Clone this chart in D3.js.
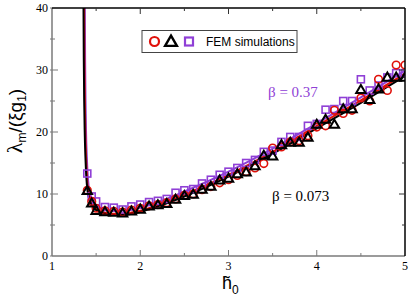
<!DOCTYPE html>
<html><head><meta charset="utf-8">
<script src="https://cdn.jsdelivr.net/npm/d3@7"></script>
<style>body{margin:0;background:#fff}svg{display:block}</style>
</head><body>
<svg id="c" width="415" height="300"></svg>
<script>
// ---- data ----
const xTicks = [1, 2, 3, 4, 5];
const yTicks = [0, 10, 20, 30, 40];
const simX = [1.4,1.45,1.5,1.6,1.7,1.8,1.9,2.0,2.1,2.2,2.3,2.4,2.5,2.6,2.7,2.8,2.9,3.0,3.1,3.2,3.3,3.4,3.5,3.6,3.7,3.8,3.9,4.0,4.1,4.2,4.3,4.4,4.5,4.6,4.7,4.8,4.9,5.0];
const triY = [10.5,8.5,7.3,7.1,7.0,6.9,7.2,7.5,8.0,8.2,8.4,9.1,9.7,9.9,10.7,11.2,12.2,12.5,13.2,13.5,14.5,16.2,16.1,17.9,18.3,18.3,19.1,21.2,22.0,21.2,23.7,23.7,26.8,25.2,26.9,28.8,28.8,28.8];
const circY = [10.6,8.8,7.7,7.3,7.2,7.1,7.4,7.7,8.1,8.3,8.6,9.2,9.8,10.0,10.7,11.2,11.8,12.3,13.0,13.6,14.2,14.9,17.4,17.6,18.4,18.6,19.4,20.8,21.0,23.5,23.0,23.5,25.5,25.0,28.5,26.7,30.8,30.8];
const sqY = [13.3,9.6,8.8,7.9,7.8,7.5,8.0,8.3,8.7,8.9,9.2,10.2,10.6,10.8,11.7,12.3,13.1,13.6,14.2,15.0,15.5,16.8,17.0,18.4,19.2,19.2,21.0,21.3,23.6,23.7,25.0,25.0,28.5,26.7,27.5,28.8,29.5,29.5];
const blackX = [1.357,1.36,1.365,1.37,1.38,1.39,1.40,1.42,1.45,1.5,1.55,1.6,1.7,1.8,1.9,2.0,2.2,2.5,3.0,3.5,4.0,4.5,5.0];
const blackY = [40,32,25,20.5,15.5,12.5,10.8,9.3,8.2,7.4,7.0,6.8,6.6,6.6,6.8,7.1,8.0,9.6,12.8,16.5,20.6,24.7,29.0];
const redX = [1.364,1.367,1.372,1.377,1.387,1.397,1.407,1.427,1.455,1.5,1.55,1.6,1.7,1.8,1.9,2.0,2.2,2.5,3.0,3.5,4.0,4.5,5.0];
const redY = [40,32,25,20.5,15.5,12.5,10.8,9.4,8.4,7.6,7.2,7.0,6.8,6.8,7.0,7.3,8.2,9.9,13.1,16.8,21.0,25.1,29.4];
const purX = [1.372,1.375,1.38,1.385,1.395,1.405,1.415,1.435,1.46,1.5,1.55,1.6,1.7,1.8,1.9,2.0,2.2,2.5,3.0,3.5,4.0,4.5,5.0];
const purY = [40,32,25,20.5,15.8,13.0,11.3,9.9,8.9,8.2,7.7,7.5,7.3,7.3,7.5,7.8,8.7,10.4,13.6,17.3,21.4,25.6,29.9];

// ---- layout ----
const svg = d3.select("#c");
const L = 52, R = 405, T = 8, B = 256;
const x = d3.scaleLinear().domain([1, 5]).range([L, R]);
const y = d3.scaleLinear().domain([0, 40]).range([B, T]);
const PUR = "#8f3fd6", RED = "#e0100a";

// curves
const line = d3.line().x(d => x(d[0])).y(d => y(d[1])).curve(d3.curveMonotoneX);
const g = svg.append("g");
g.append("clipPath").attr("id","clip").append("rect").attr("x",L).attr("y",T).attr("width",R-L).attr("height",B-T);
const cg = g.append("g").attr("clip-path","url(#clip)");
[[purX,purY,PUR],[redX,redY,RED],[blackX,blackY,"#000"]].forEach(([xs,ys,c]) => {
  cg.append("path").attr("d", line(xs.map((v,i)=>[v,ys[i]]))).attr("fill","none").attr("stroke",c).attr("stroke-width",2);
});

// markers
const sq = 7, tri = d3.symbol().type(d3.symbolTriangle).size(38);
cg.selectAll(".sq").data(simX.map((v,i)=>[v,sqY[i]])).join("rect")
  .attr("x",d=>x(d[0])-sq/2).attr("y",d=>y(d[1])-sq/2).attr("width",sq).attr("height",sq)
  .attr("fill","none").attr("stroke",PUR).attr("stroke-width",1.6);
cg.selectAll(".ci").data(simX.map((v,i)=>[v,circY[i]])).join("circle")
  .attr("cx",d=>x(d[0])).attr("cy",d=>y(d[1])).attr("r",3.8)
  .attr("fill","none").attr("stroke",RED).attr("stroke-width",1.6);
cg.selectAll(".tr").data(simX.map((v,i)=>[v,triY[i]])).join("path")
  .attr("d",tri).attr("transform",d=>`translate(${x(d[0])},${y(d[1])+0.5})`)
  .attr("fill","none").attr("stroke","#000").attr("stroke-width",2);

// frame & ticks
const ax = svg.append("g");
const grey = "#7a7a7a";
ax.append("line").attr("x1",L).attr("x2",L).attr("y1",T).attr("y2",B).attr("stroke",grey).attr("stroke-width",1.5);
ax.append("line").attr("x1",L).attr("x2",R).attr("y1",B).attr("y2",B).attr("stroke",grey).attr("stroke-width",1.5);
ax.append("line").attr("x1",L).attr("x2",R).attr("y1",T).attr("y2",T).attr("stroke","#000").attr("stroke-width",1.5);
ax.append("line").attr("x1",R).attr("x2",R).attr("y1",T).attr("y2",B).attr("stroke","#000").attr("stroke-width",1.5);
const xMinor = d3.range(1.5, 5, 1), yMinor = d3.range(5, 40, 10);
function xt(v, len){
  ax.append("line").attr("x1",x(v)).attr("x2",x(v)).attr("y1",B).attr("y2",B-len).attr("stroke",grey).attr("stroke-width",1);
  ax.append("line").attr("x1",x(v)).attr("x2",x(v)).attr("y1",T).attr("y2",T+len).attr("stroke","#333").attr("stroke-width",1);
}
function yt(v, len){
  ax.append("line").attr("x1",L).attr("x2",L+len).attr("y1",y(v)).attr("y2",y(v)).attr("stroke",grey).attr("stroke-width",1);
  ax.append("line").attr("x1",R).attr("x2",R-len).attr("y1",y(v)).attr("y2",y(v)).attr("stroke","#333").attr("stroke-width",1);
}
xTicks.slice(1,-1).forEach(v=>xt(v,6)); xMinor.forEach(v=>xt(v,3));
yTicks.slice(1,-1).forEach(v=>yt(v,6)); yMinor.forEach(v=>yt(v,3));
yTicks.concat(yMinor).forEach(v=>{
  ax.append("line").attr("x1",L-2).attr("x2",L).attr("y1",y(v)).attr("y2",y(v)).attr("stroke",grey).attr("stroke-width",1);
});

const serif = "'Liberation Serif', 'Times New Roman', serif";
const sans = "'Liberation Sans', Arial, sans-serif";
ax.selectAll(".xl").data(xTicks).join("text").attr("x",d=>x(d)).attr("y",B+14)
  .attr("text-anchor","middle").attr("font-family",serif).attr("font-size",12).text(d=>d);
ax.selectAll(".yl").data(yTicks).join("text").attr("x",L-4).attr("y",d=>y(d)+4)
  .attr("text-anchor","end").attr("font-family",serif).attr("font-size",12).text(d=>d);

// axis titles
const xl = svg.append("text").attr("x",222).attr("y",289).attr("font-family",sans).attr("font-size",18);
xl.append("tspan").text("h\u0303");
xl.append("tspan").attr("font-size",12).attr("dy",5).text("0");

const yl = svg.append("text").attr("transform","translate(22,121) rotate(-90)").attr("text-anchor","middle")
  .attr("font-family",sans).attr("font-size",19);
yl.append("tspan").attr("font-family",serif).attr("font-size",22).text("λ");
yl.append("tspan").attr("font-size",12).attr("dy",4).text("m");
yl.append("tspan").attr("dy",-4).text("/(ξg");
yl.append("tspan").attr("font-size",12).attr("dy",4).text("1");
yl.append("tspan").attr("dy",-4).text(")");

// annotations
svg.append("text").attr("x",268).attr("y",97).attr("font-family",serif).attr("font-size",15).attr("fill",PUR).text("β = 0.37");
svg.append("text").attr("x",272).attr("y",201).attr("font-family",serif).attr("font-size",15).attr("fill","#000").text("β = 0.073");

// legend
const lg = svg.append("g");
lg.append("rect").attr("x",142).attr("y",30.5).attr("width",155).attr("height",22).attr("fill","#fff").attr("stroke","#444").attr("stroke-width",1);
lg.append("circle").attr("cx",154.5).attr("cy",41.5).attr("r",4.5).attr("fill","none").attr("stroke",RED).attr("stroke-width",2.2);
lg.append("path").attr("d",d3.symbol().type(d3.symbolTriangle).size(60)).attr("transform","translate(171,42.5)").attr("fill","none").attr("stroke","#000").attr("stroke-width",2.4);
lg.append("rect").attr("x",185).attr("y",37.5).attr("width",8).attr("height",8).attr("fill","none").attr("stroke",PUR).attr("stroke-width",2.2);
lg.append("text").attr("x",206).attr("y",46).attr("font-family",sans).attr("font-size",12).text("FEM simulations");
</script>
</body></html>
